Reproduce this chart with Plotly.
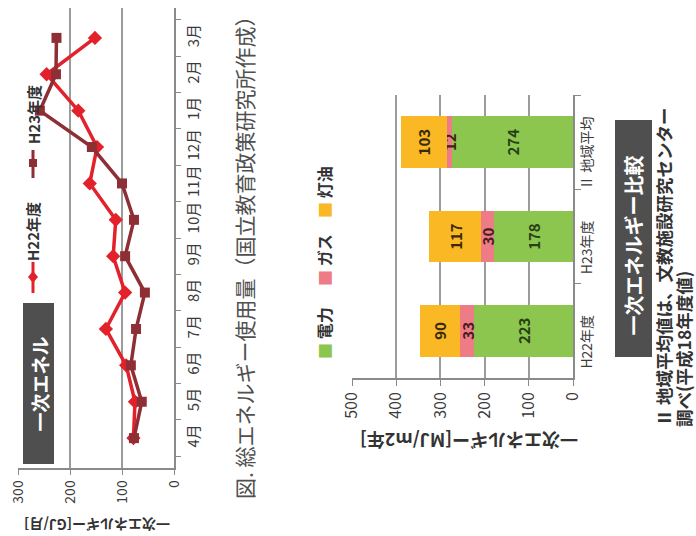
import plotly.graph_objects as go

W, H = 696, 536

# monthly primary energy use [GJ/month]
months = ['4月', '5月', '6月', '7月', '8月', '9月', '10月', '11月', '12月', '1月', '2月', '3月']
h22_energy = [78, 75, 92, 131, 94, 117, 112, 162, 148, 184, 245, 152]
h23_energy = [77, 62, 83, 73, 56, 94, 77, 100, 158, 258, 227, 226]

# annual primary energy per floor area [MJ/m2 year]
groups = ['H22年度', 'H23年度', 'Ⅱ 地域平均']
electricity = [223, 178, 274]
gas = [33, 30, 12]
kerosene = [90, 117, 103]

FONT = 'Noto Sans CJK JP'
RED = '#E3212B'
DARK_RED = '#8E2F35'
GREEN = '#8DC64E'
PINK = '#EE7C87'
ORANGE = '#F9B824'
GRID = '#9C9C9C'
AXIS = '#8A8A8A'
BOX = '#4F4F4F'


def px(x):
    return x / W


def py(y):
    return 1 - y / H


fig = go.Figure()

# ---- left: monthly line chart (drawn sideways) ----
fig.add_trace(go.Scatter(
    x=h22_energy, y=months, mode='lines+markers', name='H22年度',
    line=dict(color=RED, width=3.5),
    marker=dict(symbol='diamond', size=11, color=RED),
    xaxis='x', yaxis='y', showlegend=False))
fig.add_trace(go.Scatter(
    x=h23_energy, y=months, mode='lines+markers', name='H23年度',
    line=dict(color=DARK_RED, width=3.5),
    marker=dict(symbol='square', size=10, color=DARK_RED),
    xaxis='x', yaxis='y', showlegend=False))

# ---- right: stacked horizontal bars ----
for vals, name, col, tcol in [(electricity, '電力', GREEN, '#263F17'),
                              (gas, 'ガス', PINK, '#4A1C1C'),
                              (kerosene, '灯油', ORANGE, '#3A2A0C')]:
    fig.add_trace(go.Bar(
        x=vals, y=groups, orientation='h', name=name,
        marker=dict(color=col, line=dict(width=0)),
        text=[str(v) for v in vals], textposition='inside',
        insidetextanchor='middle', textangle=-90,
        textfont=dict(family=FONT, size=15, color=tcol, weight='bold'),
        xaxis='x2', yaxis='y2', showlegend=False))

tick_font = dict(family=FONT, size=14, color='#3C3C3C')

fig.update_layout(
    width=W, height=H,
    margin=dict(l=0, r=0, t=0, b=0, autoexpand=False),
    paper_bgcolor='white', plot_bgcolor='white',
    barmode='stack', bargap=0.45,
    uniformtext=dict(mode='show', minsize=15),
    font=dict(family=FONT),
    xaxis=dict(domain=[px(18), px(174)], range=[300, 0], dtick=100,
               automargin=False,
               showgrid=True, gridcolor=GRID, gridwidth=2, zeroline=False,
               showline=True, linecolor=AXIS, linewidth=1.5,
               ticks='outside', ticklen=5, tickcolor=AXIS,
               tickangle=-90, tickfont=tick_font, anchor='y'),
    yaxis=dict(domain=[py(468), py(8)], type='category',
               categoryorder='array', categoryarray=months,
               automargin=False,
               side='right', showgrid=False, zeroline=False,
               showline=True, linecolor=AXIS, linewidth=1.5,
               ticks='outside', ticklen=5, tickcolor=AXIS, tickson='boundaries',
               tickangle=-90, ticklabelstandoff=5,
               tickfont=dict(family=FONT, size=15, color='#3A3A3A'), anchor='x'),
    xaxis2=dict(domain=[px(352), px(573)], range=[500, 0], dtick=100,
                automargin=False,
                showgrid=True, gridcolor=GRID, gridwidth=2, zeroline=False,
                showline=True, linecolor=AXIS, linewidth=1.5,
                ticks='outside', ticklen=6, tickcolor=AXIS,
                tickangle=-90, tickfont=dict(family=FONT, size=16, color='#3C3C3C'),
                anchor='y2'),
    yaxis2=dict(domain=[py(378), py(95)], type='category',
                categoryorder='array', categoryarray=groups,
                automargin=False,
                side='right', showgrid=False, zeroline=False,
                showline=True, linecolor=AXIS, linewidth=1.5,
                ticks='outside', ticklen=6, tickcolor=AXIS, tickson='boundaries',
                tickangle=-90, ticklabelshift=13,
                tickfont=dict(family=FONT, size=14, color='#3C3C3C'),
                anchor='x2'),
)

shapes = []
ann = []


def text(x, y, s, size, color='#333', bold=False, angle=-90,
         xanchor='center', yanchor='middle'):
    ann.append(dict(x=px(x), y=py(y), xref='paper', yref='paper', text=s,
                    showarrow=False, textangle=angle,
                    xanchor=xanchor, yanchor=yanchor, borderpad=0,
                    font=dict(family=FONT, size=size, color=color,
                              weight='bold' if bold else 'normal')))


def rect(x0, y0, x1, y1, color):
    shapes.append(dict(type='rect', xref='paper', yref='paper',
                       x0=px(x0), x1=px(x1), y0=py(y1), y1=py(y0),
                       fillcolor=color, line=dict(width=0), layer='above'))


# title tab of the monthly chart
rect(23, 303, 54, 464, BOX)
text(38.5, 384, '一次エネル', 19, 'white', True)

# legend of the monthly chart
shapes.append(dict(type='line', xref='paper', yref='paper',
                   x0=px(33), x1=px(33), y0=py(293), y1=py(262),
                   line=dict(color=RED, width=3)))
shapes.append(dict(type='path', xref='paper', yref='paper',
                   path=f'M {px(33)},{py(271)} L {px(38)},{py(277)} '
                        f'L {px(33)},{py(283)} L {px(28)},{py(277)} Z',
                   fillcolor=RED, line=dict(width=0)))
text(33, 232, 'H22年度', 15, '#333', True)
shapes.append(dict(type='line', xref='paper', yref='paper',
                   x0=px(33), x1=px(33), y0=py(178), y1=py(150),
                   line=dict(color=DARK_RED, width=3)))
rect(29, 159, 37, 167, DARK_RED)
text(33, 115, 'H23年度', 15, '#333', True)

# axis titles (upside down)
text(97, 525, '一次エネルギー[GJ/月]', 14, '#333', True, angle=180)
text(469, 441, '一次エネルギー[MJ/m2年]', 18, '#333', True, angle=180)

# caption
text(244, 500, '図. 総エネルギー使用量（国立教育政策研究所作成）', 21,
     '#505050', False, yanchor='bottom')

# legend of the bar chart
for yb, name, col in [(360, '電力', GREEN), (287, 'ガス', PINK), (219, '灯油', ORANGE)]:
    text(324, yb, f'<span style="color:{col}">■</span> {name}', 16, '#333', True,
         yanchor='bottom')

# title tab of the bar chart
rect(615, 120, 652, 357, BOX)
text(633.5, 246, '一次エネルギー比較', 20, 'white', True)

# note
text(663, 428, 'Ⅱ 地域平均値は、文教施設研究センター', 17.5, '#333', True, yanchor='bottom')
text(683, 428, '調べ(平成18年度値)', 17.5, '#333', True, yanchor='bottom')

fig.update_layout(shapes=shapes, annotations=ann)

fig.write_html('out.html')
